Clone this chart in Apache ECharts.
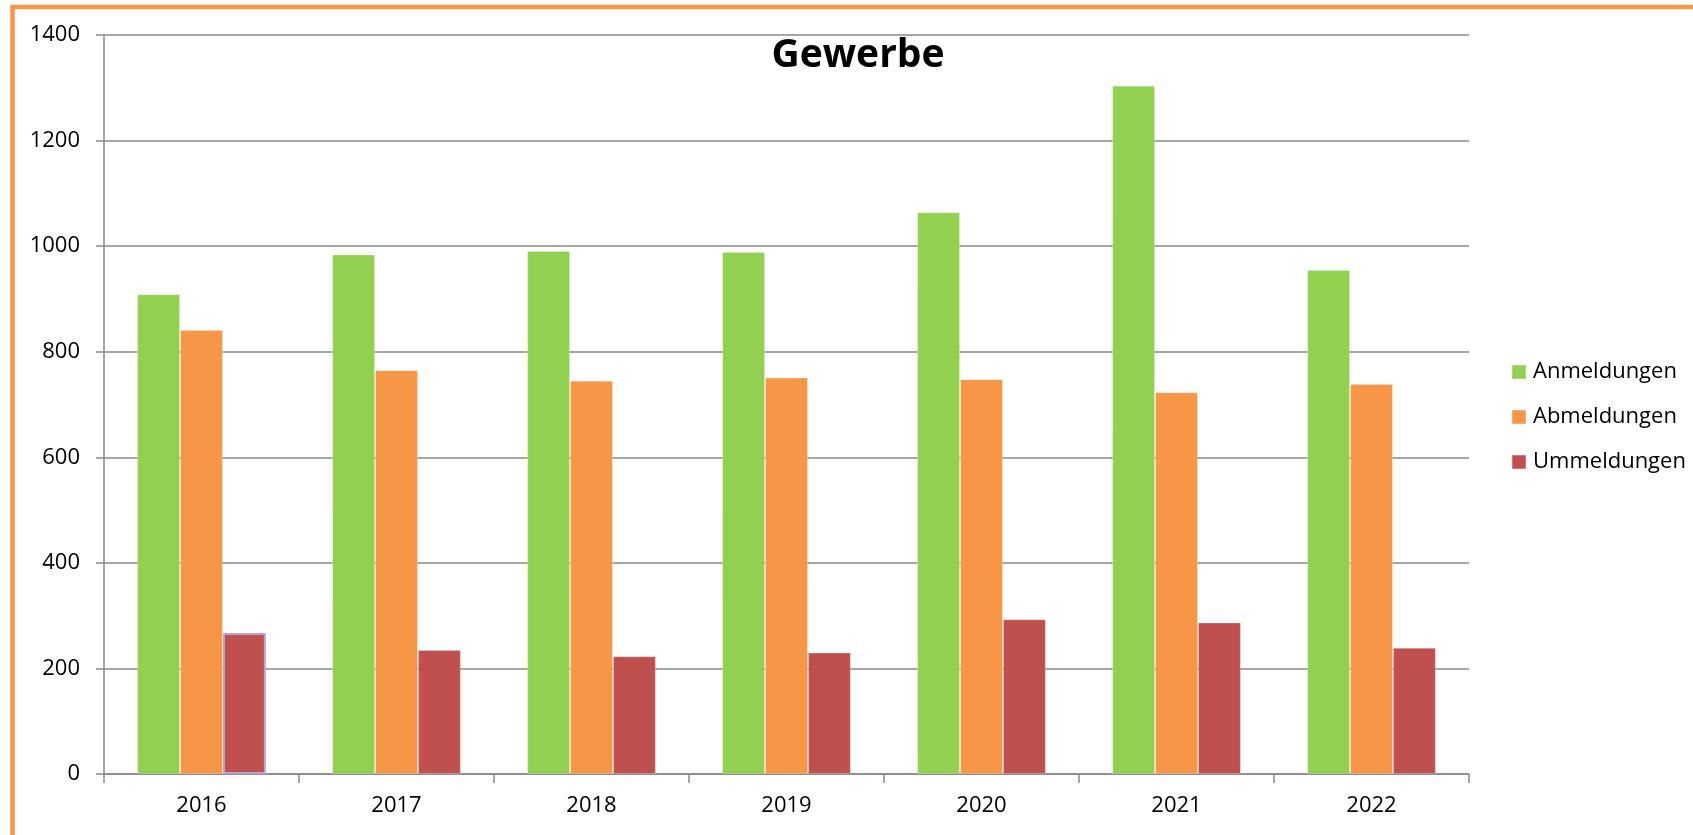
<!DOCTYPE html>
<html>
<head>
<meta charset="utf-8">
<title>Gewerbe</title>
<script src="https://cdn.jsdelivr.net/npm/echarts@6/dist/echarts.min.js"></script>
<style>
  html, body {
    margin: 0;
    padding: 0;
    background: #ffffff;
  }
  #chart {
    width: 1693px;
    height: 835px;
  }
</style>
</head>
<body>
<div id="chart"></div>
<script>
  // Daten
  var years = ['2016', '2017', '2018', '2019', '2020', '2021', '2022']
  var anmeldungen = [909, 984, 991, 989, 1064, 1304, 955]
  var abmeldungen = [841, 765, 745, 751, 748, 723, 739]
  var ummeldungen = [267, 235, 223, 230, 293, 287, 239]
  var seriesNames = ['Anmeldungen', 'Abmeldungen', 'Ummeldungen']
  var yTicks = [0, 1400, 200] // min, max, interval

  var font = 'Open Sans'
  var gridColor = '#898989'

  var myChart = echarts.init(document.getElementById('chart'))

  function barSeries (name, values, color) {
    return {
      name: name,
      type: 'bar',
      data: values,
      barGap: '0%',
      barCategoryGap: '34%',
      itemStyle: {
        color: color,
        borderColor: 'rgba(255,255,255,0.25)',
        borderWidth: 1
      }
    }
  }

  var ummeldungenData = ummeldungen.map(function (v, i) {
    // der erste Balken hat im Original einen lila Rahmen
    if (i === 0) {
      return { value: v, itemStyle: { borderColor: '#b3a6d4', borderWidth: 2 } }
    }
    return v
  })

  myChart.setOption({
    animation: false,
    backgroundColor: '#ffffff',
    title: {
      text: 'Gewerbe',
      left: 858,
      top: 36,
      textAlign: 'center',
      padding: 0,
      textStyle: {
        fontFamily: font,
        fontWeight: 'bold',
        fontSize: 39,
        color: '#000'
      }
    },
    legend: {
      orient: 'vertical',
      left: 1511,
      top: 361,
      itemWidth: 14,
      itemHeight: 14,
      itemGap: 23,
      icon: 'rect',
      padding: 0,
      textStyle: {
        fontFamily: font,
        fontSize: 22,
        color: '#000',
        padding: [0, 0, 0, 2]
      },
      data: seriesNames
    },
    grid: {
      left: 104,
      right: 224,
      top: 35,
      bottom: 61,
      containLabel: false
    },
    xAxis: {
      type: 'category',
      data: years,
      axisLine: {
        lineStyle: { color: gridColor, width: 1.5 }
      },
      axisTick: {
        show: true,
        length: 9,
        alignWithLabel: false,
        lineStyle: { color: gridColor, width: 1.5 }
      },
      axisLabel: {
        margin: 21,
        fontFamily: font,
        fontSize: 22,
        color: '#000'
      }
    },
    yAxis: {
      type: 'value',
      min: yTicks[0],
      max: yTicks[1],
      interval: yTicks[2],
      axisLine: {
        show: true,
        lineStyle: { color: gridColor, width: 1.5 }
      },
      axisTick: {
        show: true,
        length: 8,
        lineStyle: { color: gridColor, width: 1.5 }
      },
      splitLine: {
        lineStyle: { color: gridColor, width: 1.5 }
      },
      axisLabel: {
        margin: 24,
        fontFamily: font,
        fontSize: 22,
        color: '#000',
        formatter: function (v) { return String(v) }
      }
    },
    graphic: [
      {
        // orangener Rahmen (nur links und oben sichtbar)
        type: 'rect',
        silent: true,
        z: 100,
        shape: { x: 12.5, y: 7, width: 3000, height: 3000 },
        style: { fill: 'none', stroke: '#f79646', lineWidth: 4.5 }
      }
    ],
    series: [
      barSeries(seriesNames[0], anmeldungen, '#92d050'),
      barSeries(seriesNames[1], abmeldungen, '#f79646'),
      {
        name: seriesNames[2],
        type: 'bar',
        data: ummeldungenData,
        barGap: '0%',
        barCategoryGap: '34%',
        itemStyle: {
          color: '#c0504d',
          borderColor: 'rgba(255,255,255,0.25)',
          borderWidth: 1
        }
      }
    ]
  })
</script>
</body>
</html>
